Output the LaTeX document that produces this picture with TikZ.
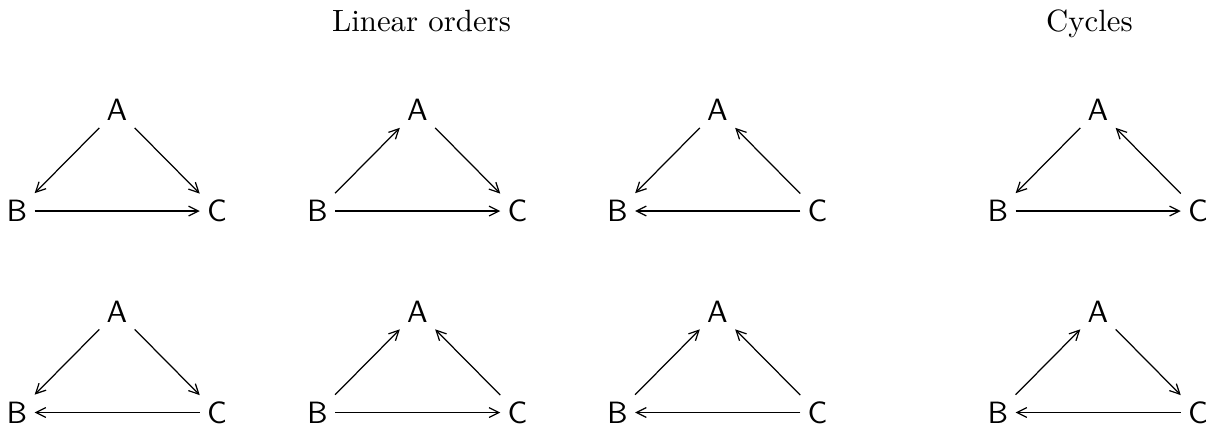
\documentclass[tikz,border=0pt]{standalone}
\usetikzlibrary{arrows.meta}
\begin{document}
\begin{tikzpicture}[x=0.3247pt,y=-0.3247pt,
  v/.style={font=\sffamily, inner sep=2.2pt},
  e/.style={-{Straight Barb[length=3.2pt,width=3.2pt]}},
  ttl/.style={anchor=base, inner sep=0pt}]
\useasboundingbox (0,0) rectangle (1221,431);
\node[ttl] (t1) at (421.5,31.5) {Linear orders};
\node[ttl] (t2) at (1089.5,31.5) {Cycles};
\foreach \c/\x in {1/117,2/417.5,3/717.5,4/1098}{
  \foreach \r/\y in {1/110,2/311.5}{
    \node[v] (A\r\c) at (\x,\y) {A};
    \node[v] (B\r\c) at (\x-100,\y+101) {B};
    \node[v] (C\r\c) at (\x+100,\y+101) {C};
  }
}
% Row 1
\draw[e] (A11) -- (B11); \draw[e] (A11) -- (C11); \draw[e] (B11) -- (C11);
\draw[e] (B12) -- (A12); \draw[e] (A12) -- (C12); \draw[e] (B12) -- (C12);
\draw[e] (A13) -- (B13); \draw[e] (C13) -- (A13); \draw[e] (C13) -- (B13);
\draw[e] (A14) -- (B14); \draw[e] (B14) -- (C14); \draw[e] (C14) -- (A14);
% Row 2
\draw[e] (A21) -- (B21); \draw[e] (A21) -- (C21); \draw[e] (C21) -- (B21);
\draw[e] (B22) -- (A22); \draw[e] (C22) -- (A22); \draw[e] (B22) -- (C22);
\draw[e] (B23) -- (A23); \draw[e] (C23) -- (A23); \draw[e] (C23) -- (B23);
\draw[e] (B24) -- (A24); \draw[e] (A24) -- (C24); \draw[e] (C24) -- (B24);
\end{tikzpicture}
\end{document}
